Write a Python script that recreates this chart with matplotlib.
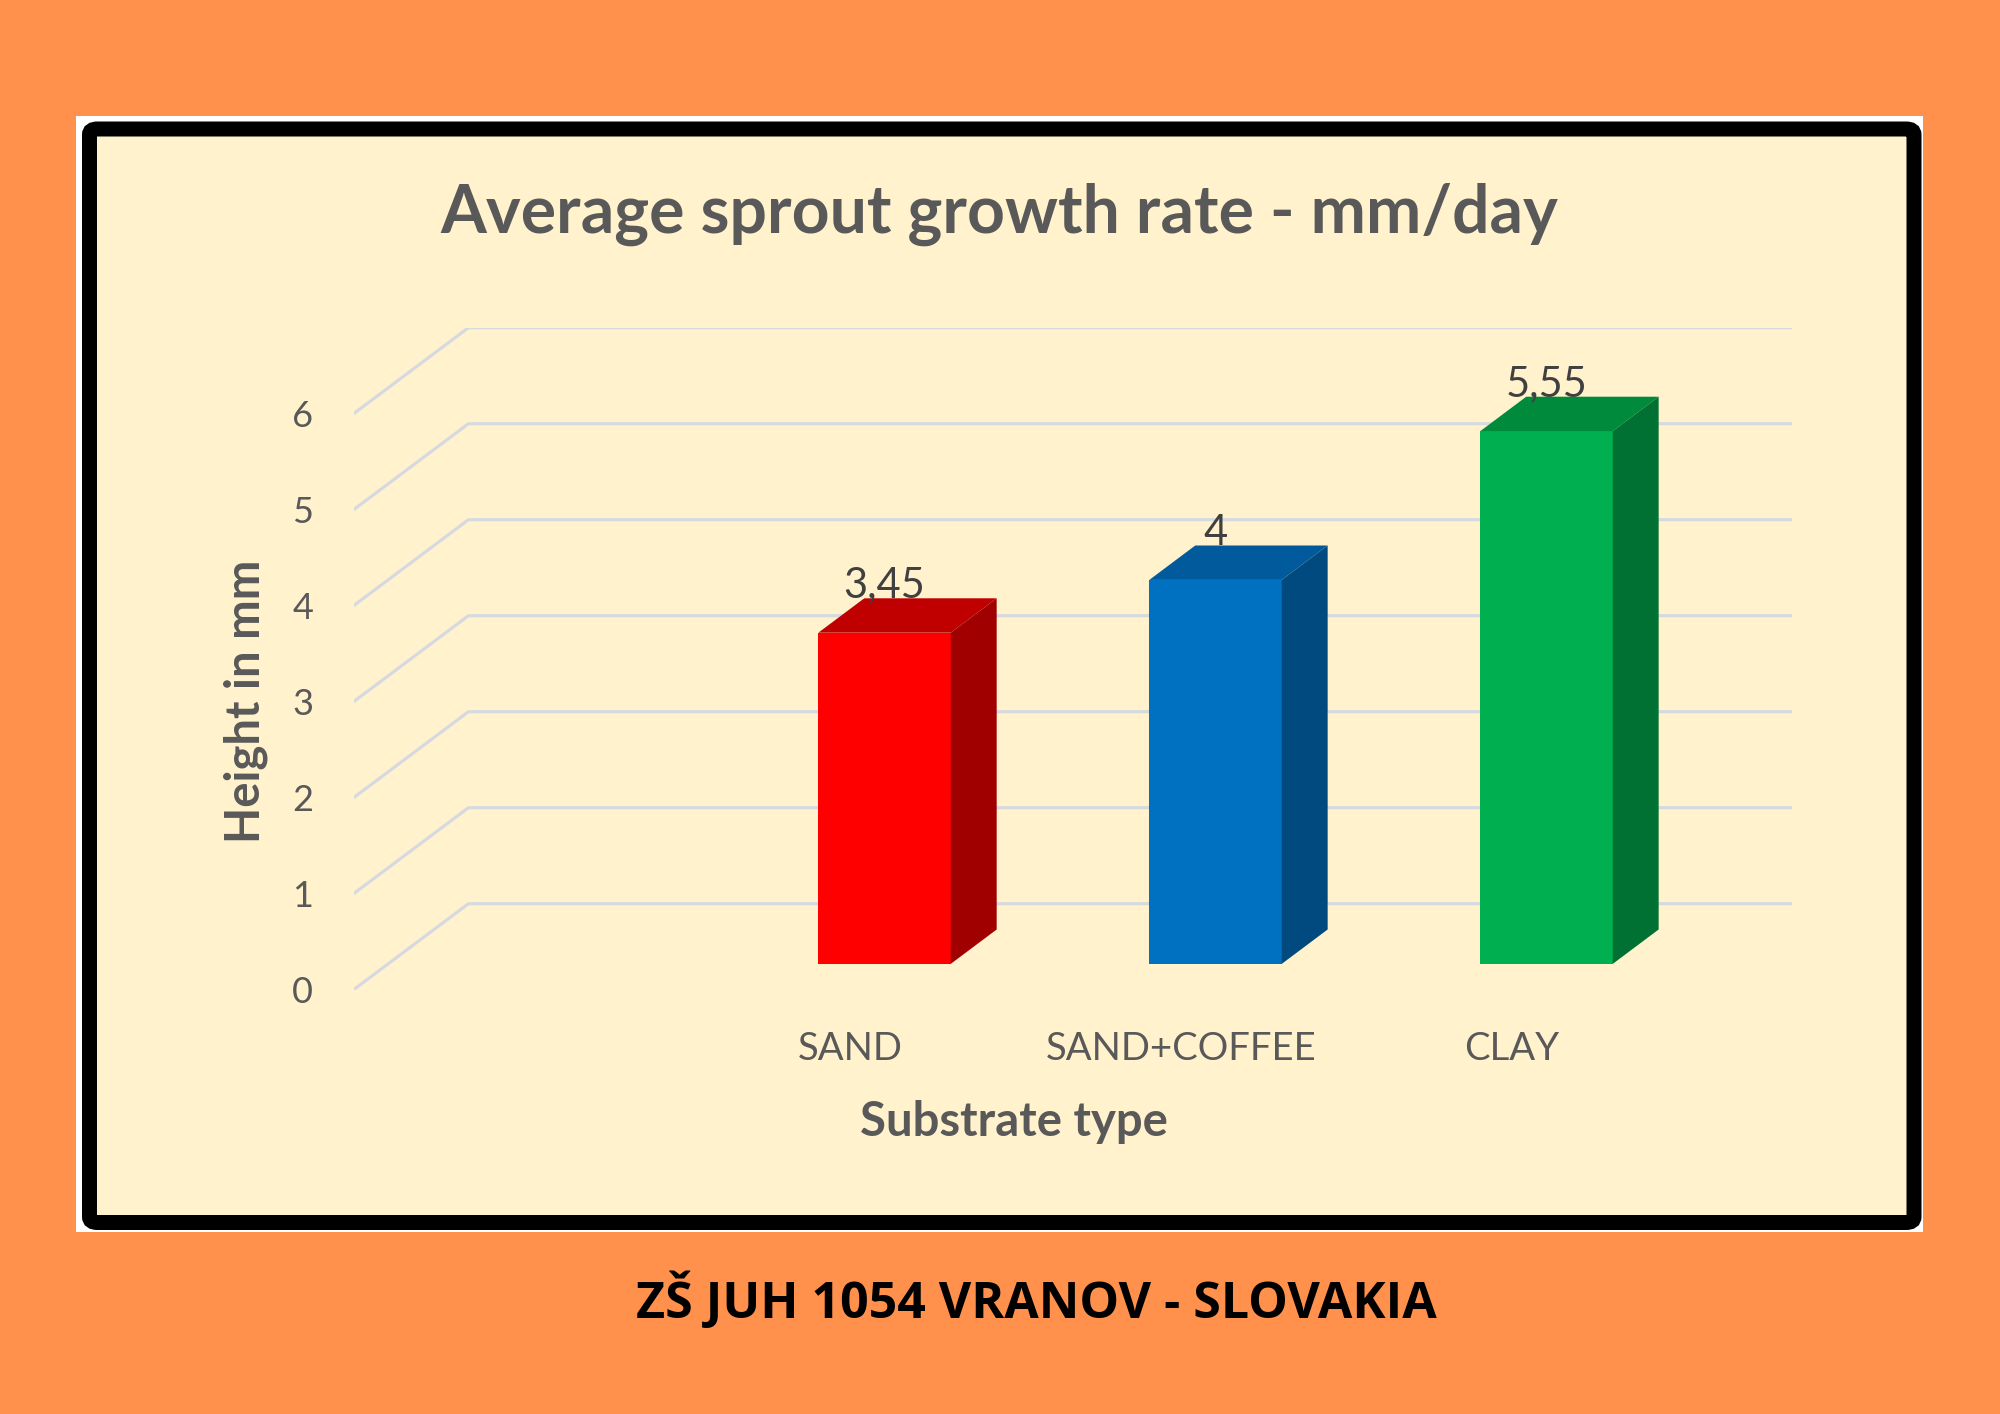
import numpy as np
import matplotlib; matplotlib.use("Agg"); import matplotlib.pyplot as plt
from matplotlib.patches import Rectangle, FancyBboxPatch, Polygon

categories=["","SAND","SAND+COFFEE","CLAY"]
values=[np.nan,3.45,4.0,5.55]
yticks=[0,1,2,3,4,5,6]
front=["#FF0000","#0070C0","#00B050"]; top=["#C00000","#005A9C","#008A3C"]; side=["#A00000","#004A80","#007033"]
title="Average sprout growth rate - mm/day"; footer="ZŠ JUH 1054 VRANOV - SLOVAKIA"

W,H=2000,1414
def fx(x): return x/W
def fy(y): return 1-y/H
fig=plt.figure(figsize=(W/100,H/100),dpi=100,facecolor="#FF914D")
fig.patches.append(Rectangle((fx(76),fy(1232)),fx(1923-76),(1232-116)/H,transform=fig.transFigure,fc="white",ec="none",zorder=-10))
fig.patches.append(FancyBboxPatch((fx(89.5),fy(1222.5)),fx(1914-89.5),(1222.5-129)/H,boxstyle="round,pad=0,rounding_size=0.004",
    transform=fig.transFigure,fc="#FFF2CC",ec="black",lw=10.8,zorder=-9))

# oblique depth offset (category units, value units)
DX,DY=0.347,0.896; BW=0.4; D0,D1=0.3,0.7
ax=fig.add_axes([fx(353.6),fy(989.7),fx(1792.4-353.6),(989.7-327.7)/H]); ax.set_facecolor("none")
n=len(categories); ax.set_xlim(0,n+DX); ax.set_ylim(0,yticks[-1]+DY)
for s in ax.spines.values(): s.set_visible(False)
gc="#D6DAE0"
for k in yticks:
    ax.plot([0,DX,n+DX],[k,k+DY,k+DY],color=gc,lw=2.3,zorder=1,solid_capstyle="butt")
i=0
for c,(cat,v) in enumerate(zip(categories,values)):
    if np.isnan(v): continue
    xc=c+0.5; l=xc-BW/2; r=xc+BW/2
    ax.bar(xc+D0*DX,v,bottom=D0*DY,width=BW,color=front[i],zorder=3)
    ax.add_patch(Polygon([(l+D0*DX,v+D0*DY),(r+D0*DX,v+D0*DY),(r+D1*DX,v+D1*DY),(l+D1*DX,v+D1*DY)],closed=True,fc=top[i],ec="none",zorder=3))
    ax.add_patch(Polygon([(r+D0*DX,D0*DY),(r+D1*DX,D1*DY),(r+D1*DX,v+D1*DY),(r+D0*DX,v+D0*DY)],closed=True,fc=side[i],ec="none",zorder=3))
    ax.text(xc+D0*DX,v+D1*DY+0.01,f"{v:g}".replace(".",","),ha="center",va="baseline",fontsize=30,color="#404040",family="Lato",zorder=4)
    i+=1
ax.set_yticks(yticks); ax.set_yticklabels([str(k) for k in yticks],fontsize=26,color="#595959",family="Lato")
ax.set_xticks(np.arange(n)+0.5); ax.set_xticklabels(categories,fontsize=27.5,color="#595959",family="Lato")
ax.tick_params(axis="y",length=0,pad=29); ax.tick_params(axis="x",length=0,pad=30)
ax.text((1014-353.6)/1438.8,(989.7-1122)/662,"Substrate type",transform=ax.transAxes,ha="center",va="center",
        fontsize=34,fontweight="bold",color="#595959",family="Lato")
ax.text((246-353.6)/1438.8,(989.7-701)/662,"Height in mm",transform=ax.transAxes,ha="center",va="center",rotation=90,
        fontsize=34,fontweight="bold",color="#595959",family="Lato")
fig.text(fx(999),fy(214),title,ha="center",va="center",fontsize=47.5,fontweight="bold",color="#595959",family="Lato")
fig.text(fx(1036),fy(1301),footer,ha="center",va="center",fontsize=36,fontweight="bold",color="black",family="Open Sans")
fig.savefig("out.png",dpi=100,facecolor=fig.get_facecolor())
